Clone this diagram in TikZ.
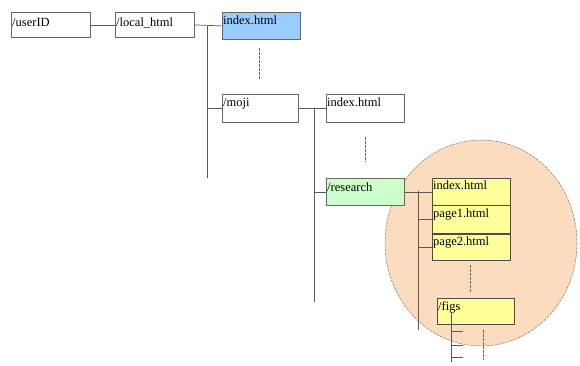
\documentclass[tikz,border=0pt]{standalone}
\usepackage{fontspec}
\setmainfont{Liberation Serif}
\definecolor{peach}{RGB}{252,220,190}
\definecolor{lblue}{RGB}{153,204,255}
\definecolor{lgreen}{RGB}{204,255,204}
\definecolor{lyellow}{RGB}{255,255,153}
\begin{document}
\begin{tikzpicture}[x=1pt,y=-1pt,
  box/.style={draw=black!60, line width=0.8pt, anchor=north west, inner sep=0pt},
  lbl/.style={font=\fontsize{12.5}{14}\selectfont, anchor=base west, inner sep=0pt, xshift=1pt},
  conn/.style={draw=black!65, line width=0.7pt},
  dots/.style={draw=black!60, line width=0.8pt, dash pattern=on 2.5pt off 1.5pt}]
\useasboundingbox (0,0) rectangle (580,365);
% circle
\fill[peach] (481,243) ellipse [x radius=96, y radius=103];
\draw[black!50, line width=0.5pt, dash pattern=on 3pt off 1pt] (481,243) ellipse [x radius=96, y radius=103];
% boxes
\node[box, minimum width=79, minimum height=25, label={[lbl,yshift=-14pt]north west:/userID}] (user) at (11,12) {};
\node[box, minimum width=79, minimum height=25, label={[lbl,yshift=-14pt]north west:/local\_html}] (local) at (115,12) {};
\node[box, fill=lblue, minimum width=78, minimum height=27, label={[lbl,yshift=-12pt]north west:index.html}] (idx1) at (222,12) {};
\node[box, minimum width=76, minimum height=28, label={[lbl,yshift=-12pt]north west:/moji}] (moji) at (222,94) {};
\node[box, minimum width=78, minimum height=28, label={[lbl,yshift=-12pt]north west:index.html}] (idx2) at (326,94) {};
\node[box, fill=lgreen, minimum width=78, minimum height=27, label={[lbl,yshift=-13pt]north west:/research}] (res) at (326,178) {};
\node[box, draw=black!70, fill=lyellow, minimum width=78, minimum height=27, label={[lbl,yshift=-11pt]north west:index.html}] (idx3) at (432,178) {};
\node[box, draw=black!70, fill=lyellow, minimum width=78, minimum height=28, label={[lbl,yshift=-12pt]north west:page1.html}] (p1) at (432,205) {};
\node[box, draw=black!70, fill=lyellow, minimum width=78, minimum height=26, label={[lbl,yshift=-11pt]north west:page2.html}] (p2) at (432,234) {};
\node[box, draw=black!70, fill=lyellow, minimum width=77, minimum height=26, label={[lbl,yshift=-12pt]north west:/figs}] (figs) at (437,298) {};
% trunks
\coordinate (t1a) at (207,26); \coordinate (t1b) at (207,178);
\coordinate (t2a) at (314,108); \coordinate (t2b) at (314,302);
\coordinate (t3a) at (418,191); \coordinate (t3b) at (418,330);
\coordinate (t4a) at (451,312); \coordinate (t4b) at (451,362);
\draw[conn] (user.east) -- (local.west);
\draw[conn] (local.east) -- (idx1.west);
\draw[conn] (t1a) -- (t1b);
\draw[conn] (t1a|-moji.west) -- (moji.west);
\draw[conn] (moji.east) -- (idx2.west);
\draw[conn] (t2a) -- (t2b);
\draw[conn] (t2a|-res.west) -- (res.west);
\draw[conn] (res.east) -- (idx3.west);
\draw[conn] (t3a) -- (t3b);
\draw[conn] (t3a|-p1.west) -- (p1.west);
\draw[conn] (t3a|-p2.west) -- (p2.west);
\draw[conn] (t4a) -- (t4b);
\foreach \yy in {331,345,357} \draw[conn] (451,\yy) -- (463,\yy);
% dotted
\draw[dots] (259,48) -- (259,80);
\draw[dots] (365,137) -- (365,162);
\draw[dots] (470,265) -- (470,292);
\draw[dots] (483,330) -- (483,360);
\end{tikzpicture}
\end{document}
